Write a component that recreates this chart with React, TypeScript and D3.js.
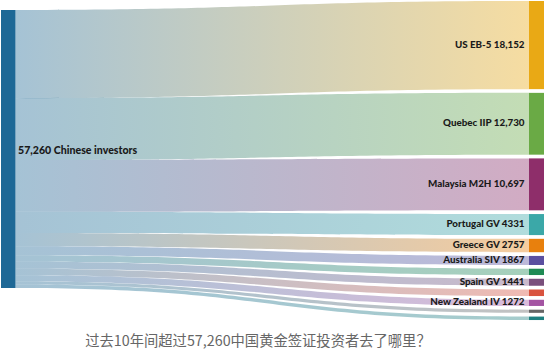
import * as d3 from "d3";

// destinations, top to bottom on the right
const targets = [
  "US EB-5",
  "Quebec IIP",
  "Malaysia M2H",
  "Portugal GV",
  "Greece GV",
  "Australia SIV",
  "",
  "Spain GV",
  "",
  "New Zealand IV",
  "",
  "",
];
const investors = [18152, 12730, 10697, 4331, 2757, 1867, 1300, 1441, 1350, 1272, 650, 713];
const valueLabels = ["18,152", "12,730", "10,697", "4331", "2757", "1867", "", "1441", "", "1272", "", ""];
const colors = [
  "#e9a915", "#6aaa45", "#8e2e6a", "#3ba8a8", "#e8800d", "#5b4fa0",
  "#1f8a54", "#7a4f7c", "#d9533f", "#a454a2", "#666666", "#1f8080",
];
const sourceLabel = "57,260 Chinese investors";
const sourceColor = "#1e6896";
const caption = "过去10年间超过57,260中国黄金签证投资者去了哪里？";

export function Sankey({
  width = 544,
  height = 351,
  nodeWidth = 14.5,
  leftX = 1,
  rightX = 529,
  leftTop = 10,
  rightTop = 1,
  padding = 3.73,
  bandHeight = 278,
}) {
  const total = d3.sum(investors);
  const y = d3.scaleLinear([0, total], [0, bandHeight]);
  const cum = d3.cumsum(investors);
  const starts = investors.map((v, i) => cum[i] - v);

  const x0 = leftX + nodeWidth;
  const x1 = rightX;
  const xm = (x0 + x1) / 2;

  const links = investors.map((v, i) => {
    const sTop = leftTop + y(starts[i]);
    const sBot = sTop + y(v);
    const tTop = rightTop + y(starts[i]) + i * padding;
    const tBot = tTop + y(v);
    const p = d3.path();
    p.moveTo(x0, sTop);
    p.bezierCurveTo(xm, sTop, xm, tTop, x1, tTop);
    p.lineTo(x1, tBot);
    p.bezierCurveTo(xm, tBot, xm, sBot, x0, sBot);
    p.closePath();
    return { d: p.toString(), tTop, tBot, color: colors[i], i };
  });

  return (
    <svg width={width} height={height} style={{ position: "absolute", left: 0, top: 0, background: "#fff" }}>
      <defs>
        {links.map((l) => (
          <linearGradient key={l.i} id={`g${l.i}`} gradientUnits="userSpaceOnUse" x1={x0} x2={x1} y1={0} y2={0}>
            <stop offset="0%" stopColor={sourceColor} stopOpacity={0.4} />
            <stop offset="100%" stopColor={l.color} stopOpacity={0.4} />
          </linearGradient>
        ))}
      </defs>
      <g>
        {links.map((l) => (
          <path key={l.i} d={l.d} fill={`url(#g${l.i})`} />
        ))}
      </g>
      <rect x={leftX} y={leftTop} width={nodeWidth} height={y(total)} fill={sourceColor} />
      <g>
        {links.map((l) => (
          <rect key={l.i} x={rightX} y={l.tTop} width={nodeWidth + 0.5} height={l.tBot - l.tTop} fill={l.color} />
        ))}
      </g>
      <g fontFamily="Lato, sans-serif" fontWeight="900" fill="#1a1a1a">
        <text x={leftX + nodeWidth + 2.5} y={leftTop + y(total) / 2 + 2} dominantBaseline="middle" fontSize="10.6">
          {sourceLabel}
        </text>
        {links.map((l) =>
          targets[l.i] ? (
            <text key={l.i} x={rightX - 4.5} y={(l.tTop + l.tBot) / 2} textAnchor="end" dominantBaseline="middle" fontSize="9.8">
              {targets[l.i]} {valueLabels[l.i]}
            </text>
          ) : null
        )}
      </g>
      <text x={258} y={346} textAnchor="middle" fontFamily="'Noto Sans CJK SC', sans-serif" fontSize="14.3" fill="#666">
        {caption}
      </text>
    </svg>
  );
}

export default function App() {
  return <Sankey />;
}
